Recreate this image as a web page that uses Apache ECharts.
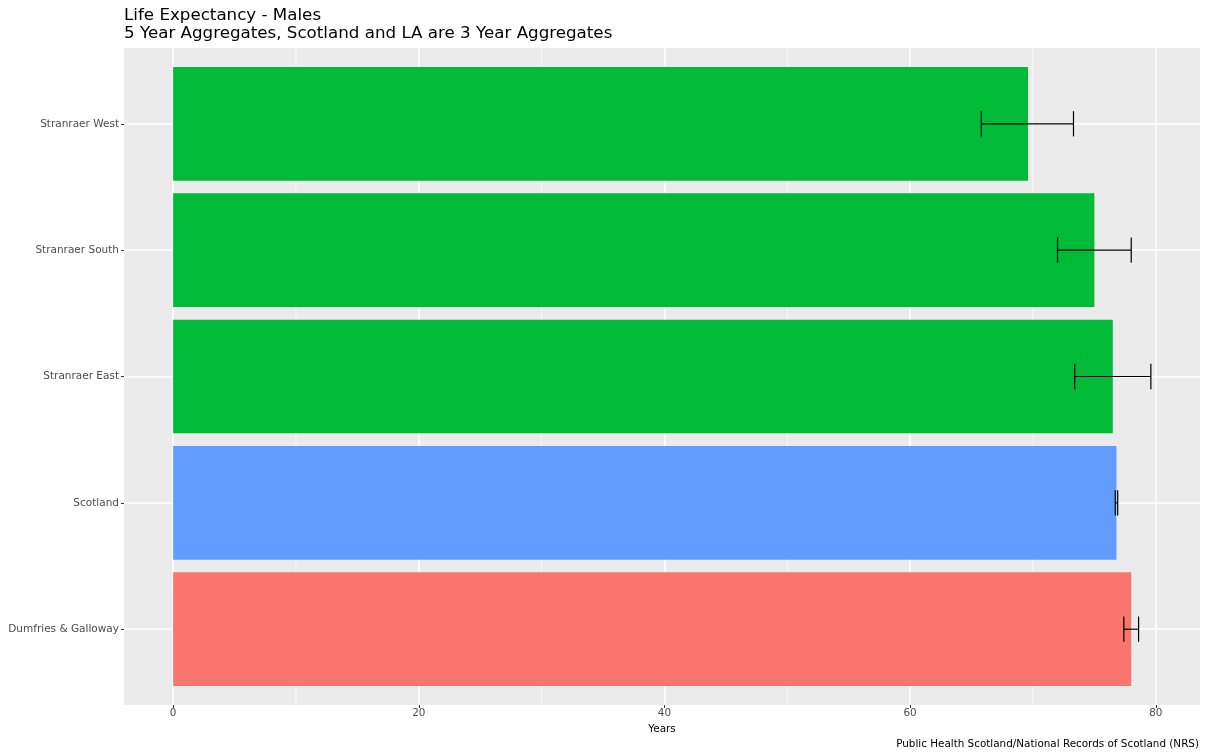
<!DOCTYPE html>
<html>
<head>
<meta charset="utf-8">
<script src="https://cdn.jsdelivr.net/npm/echarts@6/dist/echarts.min.js"></script>
<style>html,body{margin:0;padding:0;background:#fff}#main{width:1207px;height:753px}</style>
</head>
<body>
<div id="main"></div>
<script>
// ---- data ----
const categories = ['Dumfries & Galloway', 'Scotland', 'Stranraer East', 'Stranraer South', 'Stranraer West'];
const areaType = ['LA', 'Scotland', 'IZ', 'IZ', 'IZ'];
const lifeExp = [78.0, 76.8, 76.5, 75.0, 69.6];
const lowerCI = [77.4, 76.7, 73.4, 72.0, 65.8];
const upperCI = [78.6, 76.9, 79.6, 78.0, 73.3];
const xTicks = [0, 20, 40, 60, 80];
const xMinorGrid = [10, 30, 50, 70];

const typeColors = { LA: '#F8766D', Scotland: '#619CFF', IZ: '#00BA38' };
const FONT = 'DejaVu Sans';

const chart = echarts.init(document.getElementById('main'), null, { renderer: 'canvas' });

const barData = categories.map((c, i) => [lifeExp[i], i]);
const errData = categories.map((c, i) => [lowerCI[i], upperCI[i], i]);
const catIdx = categories.map((c, i) => i);

const option = {
  animation: false,
  backgroundColor: '#ffffff',
  textStyle: { fontFamily: FONT },
  title: [
    {
      text: 'Life Expectancy - Males\n5 Year Aggregates, Scotland and LA are 3 Year Aggregates',
      left: 124, top: 6, padding: 0,
      textStyle: { fontFamily: FONT, fontSize: 16.7, fontWeight: 'normal', color: '#000', lineHeight: 18.5 }
    },
    {
      text: 'Public Health Scotland/National Records of Scotland (NRS)',
      right: 8, bottom: 4, padding: 0,
      textStyle: { fontFamily: FONT, fontSize: 10.4, fontWeight: 'normal', color: '#000' }
    }
  ],
  grid: { left: 124, right: 7, top: 48, bottom: 48, show: true, backgroundColor: '#EBEBEB', borderWidth: 0 },
  xAxis: {
    type: 'value', min: -4, max: 83.6, splitNumber: 5,
    name: 'Years', nameLocation: 'middle', nameGap: 19,
    nameTextStyle: { fontFamily: FONT, fontSize: 10.4, color: '#000' },
    axisLine: { show: false, onZero: false },
    axisTick: { show: true, length: 3, customValues: xTicks, lineStyle: { color: '#333', width: 1 } },
    axisLabel: { customValues: xTicks, color: '#4D4D4D', fontSize: 10.4, fontFamily: FONT, margin: 3 },
    splitLine: { show: true, lineStyle: { color: '#ffffff', width: 1.5 } }
  },
  yAxis: {
    type: 'value', min: -0.6, max: 4.6, splitNumber: 5,
    axisLine: { show: false, onZero: false },
    axisTick: { show: true, length: 3, customValues: catIdx, lineStyle: { color: '#333', width: 1 } },
    axisLabel: {
      customValues: catIdx, color: '#4D4D4D', fontSize: 10.5, fontFamily: FONT, margin: 5,
      formatter: v => categories[Math.round(v)] || ''
    },
    splitLine: { show: true, lineStyle: { color: '#ffffff', width: 1.5 } }
  },
  series: [
    {
      type: 'custom', name: 'minor grid', z: 1, silent: true,
      data: xMinorGrid.map(v => [v]),
      encode: { x: 0 },
      renderItem: function (params, api) {
        const p = api.coord([api.value(0), 0]);
        const cs = params.coordSys;
        return {
          type: 'line',
          shape: { x1: p[0], y1: cs.y, x2: p[0], y2: cs.y + cs.height },
          style: { stroke: '#ffffff', lineWidth: 0.7 }
        };
      }
    },
    {
      type: 'custom', name: 'Life expectancy', z: 2,
      data: barData,
      renderItem: function (params, api) {
        const idx = api.value(1);
        const p0 = api.coord([0, idx]);
        const p1 = api.coord([api.value(0), idx]);
        const h = api.size([0, 0.9])[1];
        return {
          type: 'rect',
          shape: { x: p0[0], y: p0[1] - h / 2, width: p1[0] - p0[0], height: h },
          style: { fill: typeColors[areaType[idx]] }
        };
      }
    },
    {
      type: 'custom', name: 'CI', z: 3,
      encode: { x: [0, 1], y: 2 },
      data: errData,
      renderItem: function (params, api) {
        const idx = api.value(2);
        const a = api.coord([api.value(0), idx]);
        const b = api.coord([api.value(1), idx]);
        const hh = api.size([0, 0.2])[1] / 2;
        const st = { stroke: '#000', lineWidth: 1.2 };
        return {
          type: 'group',
          children: [
            { type: 'line', shape: { x1: a[0], y1: a[1], x2: b[0], y2: b[1] }, style: st },
            { type: 'line', shape: { x1: a[0], y1: a[1] - hh, x2: a[0], y2: a[1] + hh }, style: st },
            { type: 'line', shape: { x1: b[0], y1: b[1] - hh, x2: b[0], y2: b[1] + hh }, style: st }
          ]
        };
      }
    }
  ]
};
chart.setOption(option);
</script>
</body>
</html>
